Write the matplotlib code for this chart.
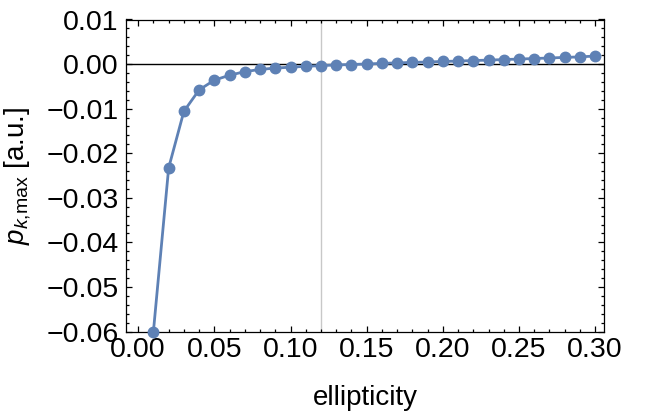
import matplotlib
matplotlib.use("Agg")
import matplotlib.pyplot as plt
from matplotlib.ticker import MultipleLocator, FuncFormatter

plt.rcParams['font.family'] = ['Liberation Sans', 'DejaVu Sans']
plt.rcParams['mathtext.fontset'] = 'custom'
plt.rcParams['mathtext.rm'] = 'Liberation Sans'
plt.rcParams['mathtext.it'] = 'Liberation Sans:italic'
plt.rcParams['mathtext.bf'] = 'Liberation Sans:bold'

ellipticity = [0.01, 0.02, 0.03, 0.04, 0.05, 0.06, 0.07, 0.08, 0.09, 0.10,
               0.11, 0.12, 0.13, 0.14, 0.15, 0.16, 0.17, 0.18, 0.19, 0.20,
               0.21, 0.22, 0.23, 0.24, 0.25, 0.26, 0.27, 0.28, 0.29, 0.30]
p_max = [-0.0600, -0.0233, -0.0106, -0.0058, -0.0036, -0.0025, -0.0017, -0.0012,
         -0.0009, -0.0007, -0.0005, -0.00035, -0.0002, -0.0001, 0.00003, 0.00015,
         0.00027, 0.00037, 0.00047, 0.00058, 0.00068, 0.00079, 0.00089, 0.00101,
         0.00113, 0.00124, 0.00137, 0.00149, 0.00162, 0.00180]
vline_x = 0.12
x_ticks = [0.00, 0.05, 0.10, 0.15, 0.20, 0.25, 0.30]
y_ticks = [-0.06, -0.05, -0.04, -0.03, -0.02, -0.01, 0.00, 0.01]

fig = plt.figure(figsize=(6.5, 4.12), dpi=100)
ax = fig.add_axes([126/650, 1-331.5/412, 478/650, 312/412])

blue = '#5E81B5'
ax.axhline(0, color='black', lw=1.0, zorder=1)
ax.axvline(vline_x, color='#c8c8c8', lw=1.0, zorder=1)
ax.plot(ellipticity, p_max, color=blue, lw=2.0, marker='o', ms=7.5,
        zorder=3, clip_on=False)

fmt = FuncFormatter(lambda v, pos: ('%.2f' % v).replace('-', '\u2212') if abs(v) > 1e-12 else '0.00')

ax.set_xlim(-0.008, 0.3058)
ax.set_ylim(-0.06, 0.01)
ax.set_xticks(x_ticks)
ax.set_yticks(y_ticks)
ax.xaxis.set_major_formatter(fmt)
ax.yaxis.set_major_formatter(fmt)
ax.xaxis.set_minor_locator(MultipleLocator(0.01))
ax.yaxis.set_minor_locator(MultipleLocator(0.002))

ax.tick_params(which='both', direction='in', top=True, right=True,
               width=0.9, labelsize=20.5, color='black')
ax.tick_params(which='major', length=4.3)
ax.tick_params(which='minor', length=2.2)
ax.tick_params(axis='x', pad=4)
ax.tick_params(axis='y', pad=5.5)
for s in ax.spines.values():
    s.set_linewidth(0.9)

ax.set_xlabel('ellipticity', fontsize=20)
ax.xaxis.set_label_coords(0.5, -0.17)
ax.set_ylabel(r'$p_{k{,}\mathrm{max}}$ [a.u.]', fontsize=20)
ax.yaxis.set_label_coords(-0.195, 0.5)

fig.savefig('out.png', dpi=100)
